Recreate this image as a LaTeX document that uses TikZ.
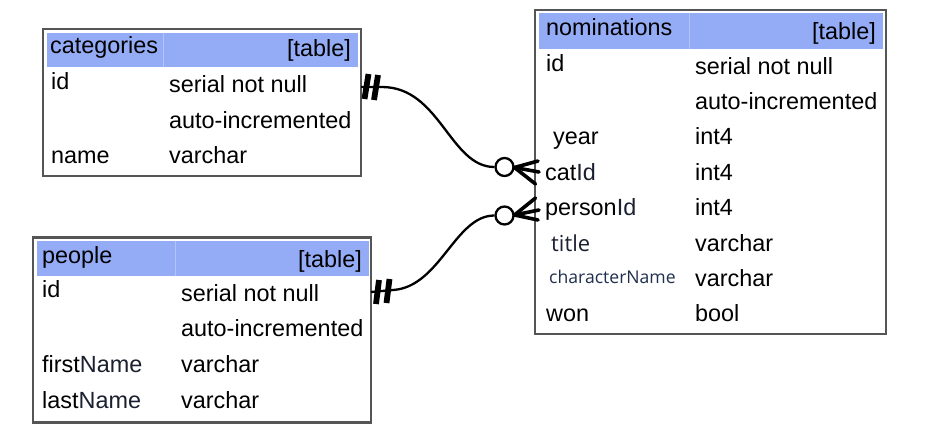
\documentclass[tikz,border=0pt]{standalone}
\usepackage{fontspec}
\setmainfont{Liberation Sans}
\newfontfamily\osans{Open Sans}
\definecolor{boxgray}{HTML}{555555}
\definecolor{hdrblue}{HTML}{94ABF6}
\definecolor{hdrline}{HTML}{B4C4F8}
\definecolor{darktxt}{HTML}{1A2030}
\definecolor{navytxt}{HTML}{1F2F4E}
\begin{document}
\begin{tikzpicture}[x=1pt,y=-1pt,
  tbl/.style={draw=boxgray,line width=2.6pt,fill=white,rectangle,inner sep=0pt,outer sep=0pt,anchor=north west},
  hdr/.style={fill=hdrblue,draw=none,rectangle,inner sep=0pt,outer sep=0pt,anchor=north west},
  txt/.style={anchor=base west,inner sep=0pt,font=\fontsize{23.4}{28}\selectfont},
  rtxt/.style={anchor=base east,inner sep=0pt,font=\fontsize{23.4}{28}\selectfont},
  conn/.style={line width=2.3pt,black},
  crow/.style={line width=3.6pt,black,line cap=round},
  bar/.style={line width=5.8pt,black},
  ring/.style={circle,draw=black,line width=2.3pt,fill=white,minimum size=18pt,inner sep=0pt}]
\useasboundingbox (0,0) rectangle (929,440);
\fill[white] (0,0) rectangle (929,440);

% ---------- categories ----------
\node[tbl,minimum width=318pt,minimum height=147pt] (cat) at (43,29) {};
\node[hdr,minimum width=311pt,minimum height=34pt] (cath) at (46.5,32.5) {};
\draw[hdrline,line width=1pt] (163,32.5) -- (163,66.5);
\node[txt] (catn) at (50,53) {categories};
\node[rtxt] (catt) at (351,56) {[table]};
\node[txt] (cat1a) at (51,89) {id};
\node[txt] (cat1b) at (169,92) {serial not null};
\node[txt] (cat2b) at (169,128) {auto-incremented};
\node[txt] (cat3a) at (51,163) {name};
\node[txt] (cat3b) at (169,163) {varchar};

% ---------- people ----------
\node[tbl,minimum width=338pt,minimum height=185pt] (ppl) at (33,237.5) {};
\node[hdr,minimum width=332pt,minimum height=35pt] (pplh) at (36.5,241) {};
\draw[hdrline,line width=1pt] (175,241) -- (175,276);
\node[txt] (ppln) at (42,263) {people};
\node[rtxt] (pplt) at (362,267) {[table]};
\node[txt] (ppl1a) at (42,297) {id};
\node[txt] (ppl1b) at (181,301) {serial not null};
\node[txt] (ppl2b) at (181,336) {auto-incremented};
\node[txt] (ppl3a) at (42,372) {first\textcolor{darktxt}{Name}};
\node[txt] (ppl3b) at (181,372) {varchar};
\node[txt] (ppl4a) at (42,408) {last\textcolor{darktxt}{Name}};
\node[txt] (ppl4b) at (181,408) {varchar};

% ---------- nominations ----------
\node[tbl,minimum width=351pt,minimum height=324pt] (nom) at (535,10) {};
\node[hdr,minimum width=344pt,minimum height=36pt] (nomh) at (538.5,13) {};
\draw[hdrline,line width=1pt] (689,13) -- (689,49);
\node[txt] (nomn) at (546,35) {nominations};
\node[rtxt] (nomt) at (876,39) {[table]};
\node[txt] (nom1a) at (546,71) {id};
\node[txt] (nom1b) at (695,74) {serial not null};
\node[txt] (nom2b) at (695,109) {auto-incremented};
\node[txt] (nom3a) at (553,144) {year};
\node[txt] (nom3b) at (695,144) {int4};
\node[txt] (nom4a) at (545,180) {cat\textcolor{darktxt}{Id}};
\node[txt] (nom4b) at (695,180) {int4};
\node[txt] (nom5a) at (545,215) {person\textcolor{darktxt}{Id}};
\node[txt] (nom5b) at (695,215) {int4};
\node[anchor=base west,inner sep=0pt,font=\osans\fontsize{22}{26}\selectfont,text=darktxt] (nom6a) at (551,251) {title};
\node[txt] (nom6b) at (695,251) {varchar};
\node[anchor=base west,inner sep=0pt,font=\osans\fontsize{17.6}{21}\selectfont,text=navytxt] (nom7a) at (549,283) {characterName};
\node[txt] (nom7b) at (695,286) {varchar};
\node[txt] (nom8a) at (546,321) {won};
\node[txt] (nom8b) at (695,321) {bool};

% ---------- connector categories -> nominations.catId ----------
\coordinate (c1s) at (cat.east |- 0,87);
\coordinate (c1b) at (382,87);
\node[ring] (o1) at (504.5,167) {};
\coordinate (f1) at (514.5,167.5);
\coordinate (f1a) at (538,161);
\coordinate (f1b) at (539,172);
\coordinate (f1c) at (535.5,184);
\draw[conn] (c1s) -- (c1b) .. controls (440,87) and (450,167) .. (o1.west);
\draw[bar] (364.5,99) -- (368.5,74);
\draw[bar] (374,100) -- (378,75);
\draw[crow] (f1) -- (f1a);
\draw[crow] (f1) -- (f1b);
\draw[crow] (f1) -- (f1c);
\draw[conn] (o1.east) -- (f1);

% ---------- connector people -> nominations.personId ----------
\coordinate (c2s) at (ppl.east |- 0,292);
\coordinate (c2b) at (393,290);
\node[ring] (o2) at (504.5,215.5) {};
\coordinate (f2) at (514.5,215);
\coordinate (f2a) at (535.5,198);
\coordinate (f2b) at (539,210);
\coordinate (f2c) at (538,220);
\draw[conn] (c2s) -- (c2b) .. controls (440,287) and (455,215.5) .. (o2.west);
\draw[bar] (376,304) -- (379,280);
\draw[bar] (386.5,303) -- (389.5,279);
\draw[crow] (f2) -- (f2a);
\draw[crow] (f2) -- (f2b);
\draw[crow] (f2) -- (f2c);
\draw[conn] (o2.east) -- (f2);
\end{tikzpicture}
\end{document}
